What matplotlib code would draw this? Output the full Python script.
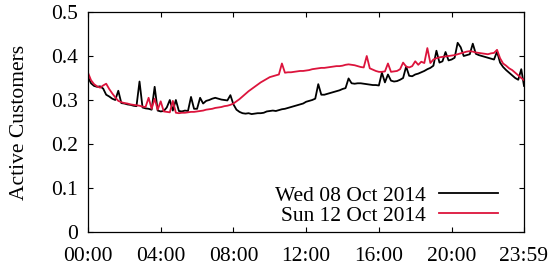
import numpy as np
import matplotlib
matplotlib.use("Agg")
import matplotlib.pyplot as plt

# time in minutes since midnight (10-minute samples, last sample 23:59)
minutes = list(range(0, 1440, 10)) + [1439]

wed_values = [
    0.352, 0.338, 0.332, 0.330, 0.331, 0.326,   # 00h
    0.312, 0.308, 0.303, 0.300, 0.321, 0.293,   # 01h
    0.292, 0.290, 0.289, 0.287, 0.286, 0.342,   # 02h
    0.283, 0.281, 0.280, 0.278, 0.330, 0.276,   # 03h
    0.274, 0.275, 0.283, 0.300, 0.276, 0.300,   # 04h
    0.275, 0.274, 0.276, 0.275, 0.307, 0.280,   # 05h
    0.280, 0.305, 0.292, 0.298, 0.300, 0.303,   # 06h
    0.305, 0.303, 0.301, 0.300, 0.299, 0.311,   # 07h
    0.290, 0.278, 0.273, 0.270, 0.269, 0.270,   # 08h
    0.268, 0.269, 0.270, 0.270, 0.271, 0.274,   # 09h
    0.275, 0.276, 0.275, 0.277, 0.279, 0.280,   # 10h
    0.282, 0.284, 0.286, 0.288, 0.290, 0.292,   # 11h
    0.296, 0.298, 0.300, 0.303, 0.336, 0.312,   # 12h
    0.312, 0.314, 0.316, 0.318, 0.320, 0.322,   # 13h
    0.325, 0.327, 0.349, 0.338, 0.337, 0.338,   # 14h
    0.338, 0.337, 0.336, 0.335, 0.334, 0.334,   # 15h
    0.333, 0.362, 0.340, 0.358, 0.344, 0.342,   # 16h
    0.343, 0.346, 0.350, 0.376, 0.355, 0.354,   # 17h
    0.358, 0.360, 0.363, 0.366, 0.370, 0.373,   # 18h
    0.378, 0.412, 0.385, 0.388, 0.409, 0.390,   # 19h
    0.392, 0.396, 0.430, 0.420, 0.400, 0.402,   # 20h
    0.404, 0.428, 0.405, 0.402, 0.400, 0.398,   # 21h
    0.396, 0.394, 0.392, 0.410, 0.385, 0.375,   # 22h
    0.368, 0.362, 0.356, 0.350, 0.346, 0.370,   # 23h
    0.332,
]

sun_values = [
    0.362, 0.345, 0.336, 0.331, 0.328, 0.333,   # 00h
    0.337, 0.325, 0.315, 0.306, 0.298, 0.295,   # 01h
    0.293, 0.292, 0.290, 0.289, 0.288, 0.287,   # 02h
    0.285, 0.284, 0.305, 0.280, 0.303, 0.278,   # 03h
    0.297, 0.274, 0.273, 0.272, 0.298, 0.271,   # 04h
    0.270, 0.271, 0.271, 0.272, 0.273, 0.273,   # 05h
    0.274, 0.275, 0.276, 0.278, 0.279, 0.280,   # 06h
    0.282, 0.283, 0.284, 0.286, 0.287, 0.289,   # 07h
    0.292, 0.297, 0.302, 0.308, 0.314, 0.320,   # 08h
    0.325, 0.330, 0.335, 0.340, 0.344, 0.348,   # 09h
    0.352, 0.354, 0.356, 0.358, 0.383, 0.362,   # 10h
    0.363, 0.363, 0.364, 0.365, 0.366, 0.366,   # 11h
    0.367, 0.368, 0.370, 0.371, 0.372, 0.373,   # 12h
    0.373, 0.374, 0.375, 0.376, 0.377, 0.377,   # 13h
    0.378, 0.380, 0.381, 0.380, 0.379, 0.377,   # 14h
    0.375, 0.374, 0.400, 0.372, 0.369, 0.366,   # 15h
    0.364, 0.364, 0.365, 0.383, 0.364, 0.365,   # 16h
    0.366, 0.370, 0.385, 0.376, 0.374, 0.377,   # 17h
    0.388, 0.380, 0.387, 0.384, 0.418, 0.384,   # 18h
    0.392, 0.395, 0.397, 0.398, 0.399, 0.400,   # 19h
    0.401, 0.402, 0.404, 0.406, 0.408, 0.410,   # 20h
    0.411, 0.410, 0.408, 0.407, 0.406, 0.405,   # 21h
    0.404, 0.406, 0.407, 0.414, 0.395, 0.383,   # 22h
    0.378, 0.372, 0.368, 0.362, 0.356, 0.350,   # 23h
    0.345,
]

series_labels = ["Wed 08 Oct 2014", "Sun 12 Oct 2014"]
series_colors = ["#000000", "#dc143c"]

xtick_minutes = [0, 240, 480, 720, 960, 1200, 1439]
xtick_labels = ["00:00", "04:00", "08:00", "12:00", "16:00", "20:00", "23:59"]
ytick_values = [0, 0.1, 0.2, 0.3, 0.4, 0.5]
ytick_labels = ["0", "0.1", "0.2", "0.3", "0.4", "0.5"]

plt.rcParams['font.family'] = ['Liberation Serif', 'DejaVu Serif']
plt.rcParams['font.size'] = 15.5

fig = plt.figure(figsize=(5.5, 2.69), dpi=100)
ax = fig.add_axes([88/550, 1-232/269, (524-88)/550, (232-12)/269])

ax.plot(minutes, wed_values, color=series_colors[0], lw=1.3, label=series_labels[0])
ax.plot(minutes, sun_values, color=series_colors[1], lw=1.3, label=series_labels[1])

ax.set_xlim(0, 1439)
ax.set_ylim(0, 0.5)
ax.set_xticks(xtick_minutes)
ax.set_xticklabels(xtick_labels)
ax.set_yticks(ytick_values)
ax.set_yticklabels(ytick_labels)
ax.tick_params(direction='in', length=3.5, width=0.8, top=True, right=True)
ax.tick_params(axis='x', pad=11)
ax.tick_params(axis='y', pad=7)
for s in ax.spines.values():
    s.set_linewidth(0.9)

ax.set_ylabel("Active Customers", labelpad=16)

leg = ax.legend(loc='lower right', bbox_to_anchor=(0.975, -0.04), markerfirst=False,
                frameon=False, handlelength=2.75, handletextpad=0.6,
                labelspacing=0.0, borderpad=0.2)

fig.savefig("out.png", dpi=100)
